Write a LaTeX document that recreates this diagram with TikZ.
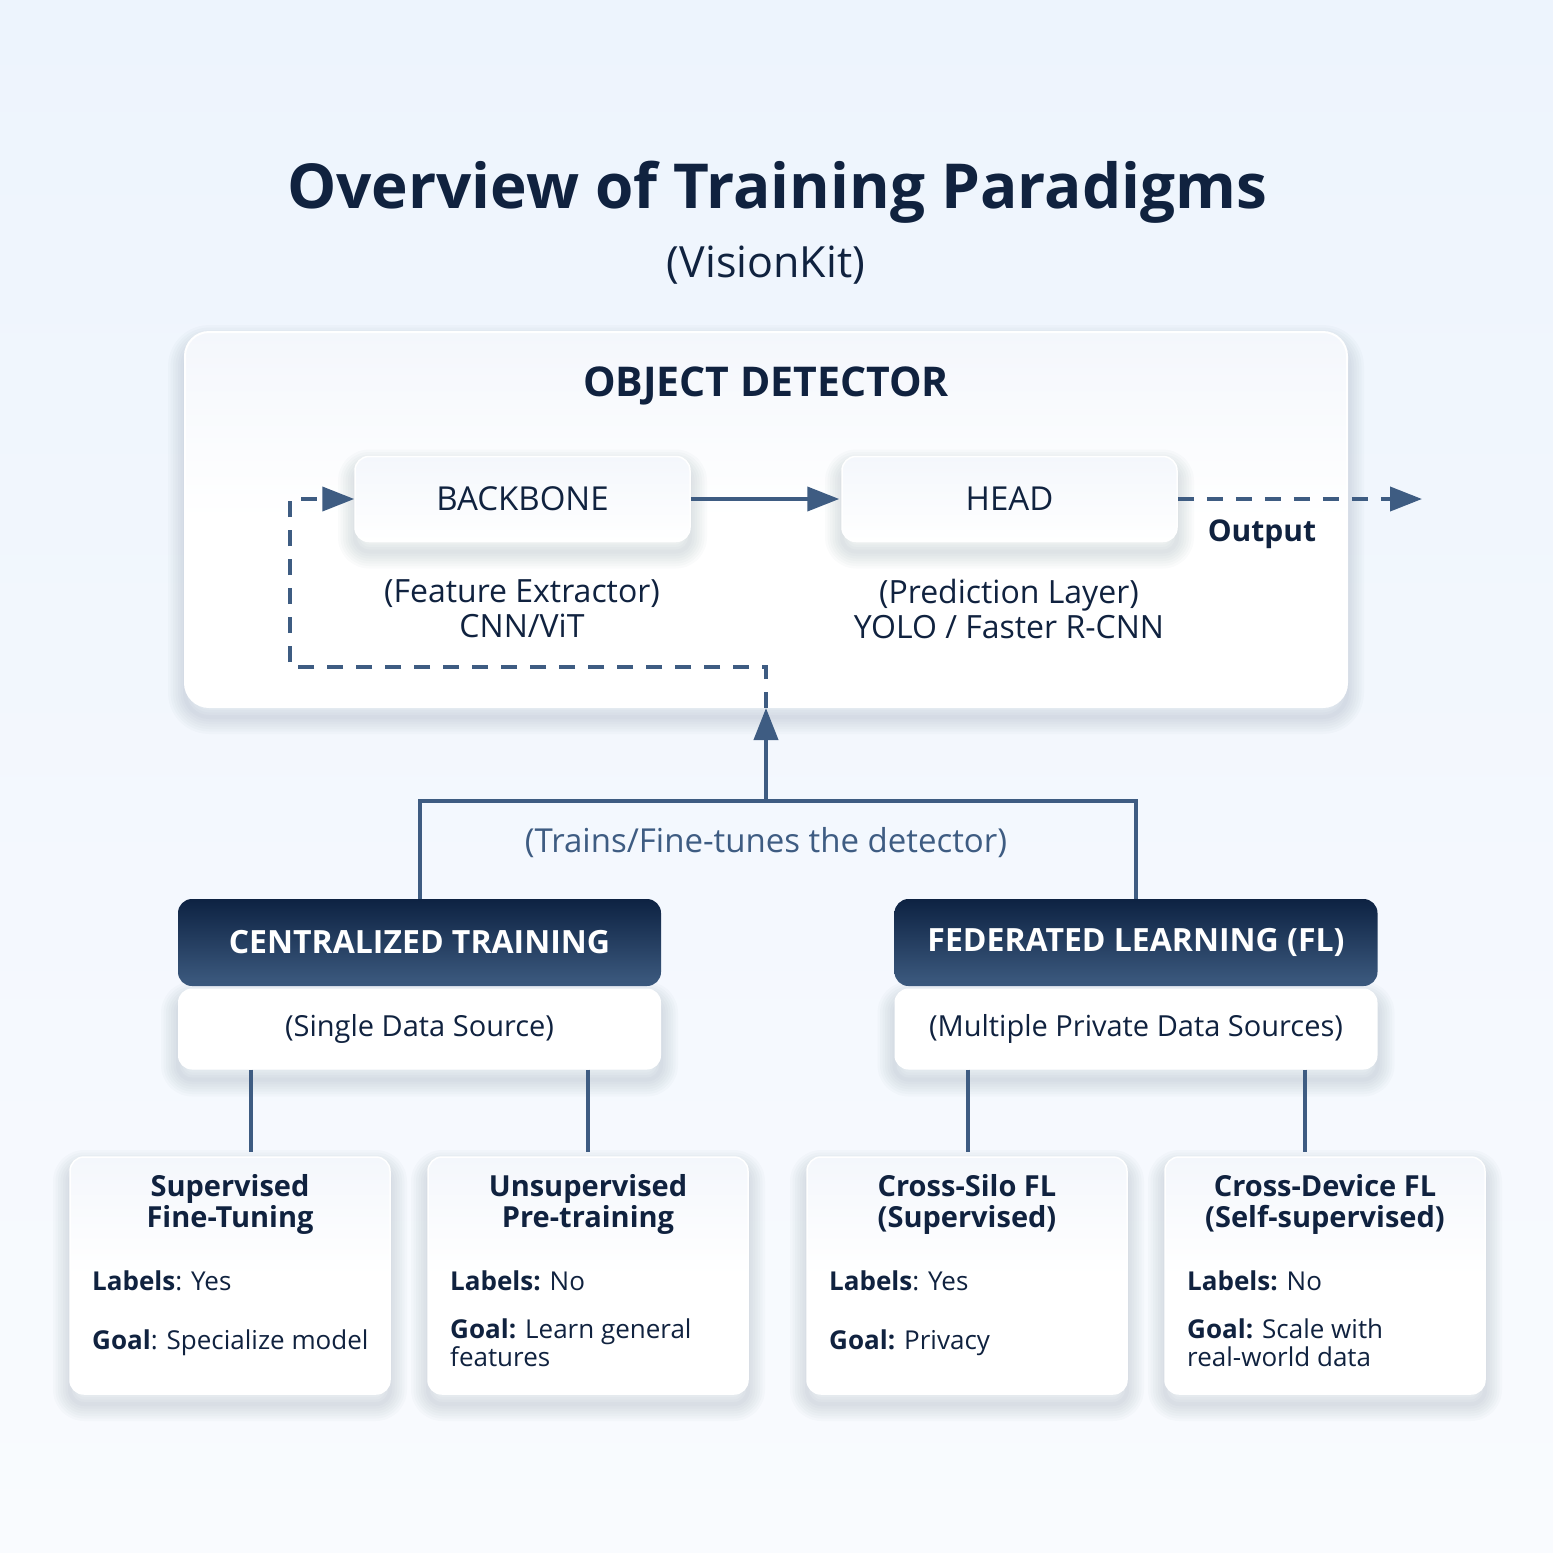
\documentclass[tikz,border=0pt]{standalone}
\usepackage{fontspec}
\setmainfont{Open Sans}
\usetikzlibrary{arrows.meta,calc}
\definecolor{ink}{HTML}{10223F}
\definecolor{steel}{HTML}{3E5C82}
\definecolor{bgtop}{HTML}{EDF4FD}
\definecolor{bgbot}{HTML}{F9FBFE}
\definecolor{hdtop}{HTML}{0D2242}
\definecolor{hdbot}{HTML}{3D5B80}
\definecolor{boxtop}{HTML}{F4F7FC}
\definecolor{shcol}{HTML}{1E3658}
\newcommand{\fsz}[2]{\fontsize{#1pt}{#2pt}\selectfont}
\tikzset{
  shl/.style={preaction={draw=shcol, fill=none, draw opacity=0.018, line width=#1, line join=round, transform canvas={yshift=-10pt}}},
  softshadow/.style={shl=34pt, shl=29pt, shl=24pt, shl=19pt, shl=14pt, shl=9pt, shl=4pt},
  panel/.style={rounded corners=24pt, draw=white, line width=2pt, top color=boxtop, bottom color=white, middle color=white, softshadow},
  unit/.style={rounded corners=14pt, draw=white, line width=1.5pt, top color=boxtop, bottom color=white, minimum width=335pt, minimum height=85pt, softshadow, text=ink, font=\fsz{33}{38}},
  header/.style={rounded corners=14pt, top color=hdtop, bottom color=hdbot, minimum width=483pt, minimum height=87pt, text=white, font=\fsz{32}{38}\bfseries},
  sub/.style={rounded corners=14pt, fill=white, minimum width=483pt, minimum height=81pt, text=ink, font=\fsz{29}{34}, softshadow},
  card/.style={rounded corners=14pt, draw=white, line width=1.5pt, top color=boxtop, bottom color=white, middle color=white, minimum width=320pt, minimum height=237pt, softshadow},
  ctitle/.style={text=ink, font=\fsz{29}{31}\bfseries, align=center},
  cline/.style={text=ink, font=\fsz{26}{28}, align=left, anchor=west, inner sep=0pt},
  conn/.style={draw=steel, line width=4pt},
  dashy/.style={dash pattern=on 16pt off 13pt},
  arr/.style={-{Triangle[length=32pt,width=24pt]}},
  plain/.style={text=ink}
}
\begin{document}
\begin{tikzpicture}[x=1pt,y=-1pt]
\shade[top color=bgtop, bottom color=bgbot] (0,0) rectangle (1553,1553);
\useasboundingbox (0,0) rectangle (1553,1553);

\node[plain, font=\fsz{62}{66}\bfseries] (title) at (777,192) {Overview of Training Paradigms};
\node[plain, font=\fsz{43}{48}] (subtitle) at (766,265) {(VisionKit)};

\node[panel, minimum width=1162pt, minimum height=375pt] (det) at (766,519.5) {};
\node[plain, font=\fsz{41}{46}\bfseries] (detlabel) at (766,386) {OBJECT DETECTOR};

\node[unit] (bb) at (522.5,499) {BACKBONE};
\node[unit] (hd) at (1009.5,499) {HEAD};
\node[plain, font=\fsz{32}{35}, align=center] (bbdesc) at (522,609) {(Feature Extractor)\\CNN/ViT};
\node[plain, font=\fsz{32}{35}, align=center] (hddesc) at (1009,609) {(Prediction Layer)\\YOLO / Faster R-CNN};
\node[plain, font=\fsz{30}{35}\bfseries] (outlbl) at (1262,534) {Output};
\coordinate (outend) at (1422,499);

\draw[conn, arr, shorten >=2pt] (bb) -- (hd);
\draw[conn, dashy, arr] (hd.east) -- (outend);

\coordinate (fb1) at (766,667);
\coordinate (fb2) at (290,667);
\coordinate (fb3) at (290,499);
\draw[conn, dashy, arr] (det.south) -- (fb1) -- (fb2) -- (fb3) -- (bb.west);

\coordinate (j) at (766,801);
\draw[conn, arr] (j) -- (det.south);

\node[header] (ch) at (419.5,942.5) {CENTRALIZED TRAINING};
\node[header] (fh) at (1136,942.5) {FEDERATED LEARNING (FL)};
\node[sub] (cs) at (419.5,1029) {(Single Data Source)};
\node[sub] (fs) at (1136,1029) {(Multiple Private Data Sources)};

\draw[conn] (ch.north) |- (j) -| (fh.north);
\node[text=steel, font=\fsz{33}{38}] (trains) at (766,843) {(Trains/Fine-tunes the detector)};

\node[card] (c1) at (230,1275.5) {};
\node[card] (c2) at (588,1275.5) {};
\node[card] (c3) at (967,1275.5) {};
\node[card] (c4) at (1325,1275.5) {};

\coordinate (k1) at (251,1152);
\coordinate (k2) at (588,1152);
\coordinate (k3) at (968,1152);
\coordinate (k4) at (1305,1152);
\draw[conn] (cs.south -| k1) -- (k1);
\draw[conn] (cs.south -| k2) -- (k2);
\draw[conn] (fs.south -| k3) -- (k3);
\draw[conn] (fs.south -| k4) -- (k4);

\node[ctitle] (t1) at (230,1204) {Supervised\\Fine-Tuning};
\node[ctitle] (t2) at (588,1204) {Unsupervised\\Pre-training};
\node[ctitle] (t3) at (967,1204) {Cross-Silo FL\\(Supervised)};
\node[ctitle] (t4) at (1325,1204) {Cross-Device FL\\(Self-supervised)};

\node[cline] (l1) at (92,1281) {\textbf{Labels}: Yes};
\node[cline] (l2) at (450,1281) {\textbf{Labels:} No};
\node[cline] (l3) at (829,1281) {\textbf{Labels}: Yes};
\node[cline] (l4) at (1187,1281) {\textbf{Labels:} No};

\node[cline] (g1) at (92,1343) {\textbf{Goal}: Specialize model};
\node[cline] (g2) at (450,1343) {\textbf{Goal:} Learn general\\features};
\node[cline] (g3) at (829,1343) {\textbf{Goal:} Privacy};
\node[cline] (g4) at (1187,1343) {\textbf{Goal:} Scale with\\real-world data};
\end{tikzpicture}
\end{document}
